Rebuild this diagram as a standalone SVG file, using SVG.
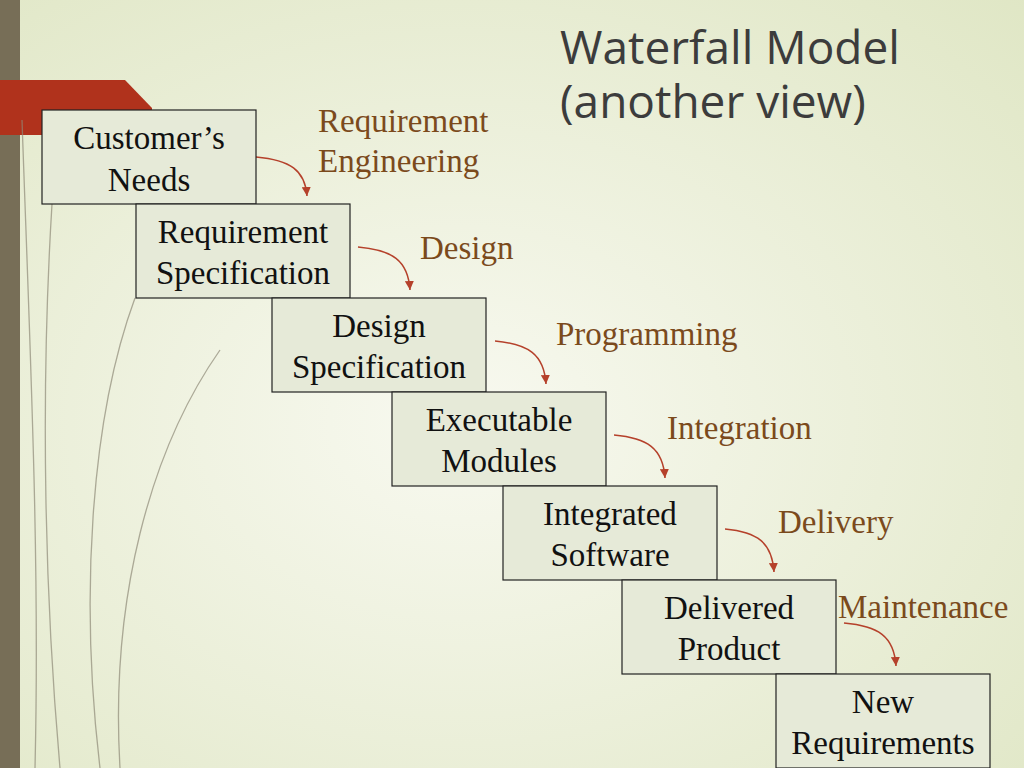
<svg xmlns="http://www.w3.org/2000/svg" width="1024" height="768" viewBox="0 0 1024 768">
<defs>
<radialGradient id="bg" cx="0.45" cy="0.55" r="0.8">
<stop offset="0" stop-color="#f8f9f0"/><stop offset="1" stop-color="#dfe6c4"/>
</radialGradient>
<marker id="ah" markerWidth="9" markerHeight="9" refX="8" refY="4" orient="auto" markerUnits="userSpaceOnUse" viewBox="0 0 8 8">
<path d="M0,0 L8,4 L0,8 z" fill="#b5412b"/>
</marker>
<style>
.box{fill:#e6ead8;stroke:#222;stroke-width:1.2}
.t{font-family:"Liberation Serif",serif;font-size:33px;fill:#111;text-anchor:middle}
.l{font-family:"Liberation Serif",serif;font-size:33px;fill:#7b4a1c}
.c{fill:none;stroke:#b5412b;stroke-width:1.5}
.d{fill:none;stroke:#8f8a78;stroke-width:1.3;opacity:0.7}
</style>
</defs>
<rect width="1024" height="768" fill="url(#bg)"/>
<g id="decor">
<rect x="0" y="0" width="20" height="768" fill="#776e57"/>
<polygon points="0,80 125,80 152,108 152,135 0,135" fill="#b0321c"/>
<path class="d" d="M52,204 C40,400 45,600 60,768"/>
<path class="d" d="M135,298 C90,420 80,600 100,768"/>
<path class="d" d="M220,350 C150,450 110,600 120,768"/>
<path class="d" d="M22,120 C30,350 40,560 35,768"/>
</g>
<text x="560" y="64" font-family="Open Sans, sans-serif" font-size="46" fill="#3c3c3c">Waterfall Model</text>
<text x="560" y="118" font-family="Open Sans, sans-serif" font-size="46" fill="#3c3c3c">(another view)</text>
<g id="connectors">
<path class="c" d="M256,157 C290,160 305,170 307,196" marker-end="url(#ah)"/>
<path class="c" d="M358,247 C392,250 408,260 410,290" marker-end="url(#ah)"/>
<path class="c" d="M495,341 C528,344 544,354 546,384" marker-end="url(#ah)"/>
<path class="c" d="M614,435 C647,438 663,448 665,478" marker-end="url(#ah)"/>
<path class="c" d="M725,529 C757,532 772,542 774,572" marker-end="url(#ah)"/>
<path class="c" d="M844,623 C878,626 894,636 896,666" marker-end="url(#ah)"/>
</g>
<g id="labels">
<text class="l" x="318" y="132">Requirement</text>
<text class="l" x="318" y="172">Engineering</text>
<text class="l" x="420" y="259">Design</text>
<text class="l" x="556" y="345">Programming</text>
<text class="l" x="667" y="439">Integration</text>
<text class="l" x="778" y="533">Delivery</text>
<text class="l" x="838" y="618">Maintenance</text>
</g>
<g id="n1"><rect class="box" x="42" y="110" width="214" height="94"/><text class="t" x="149" y="149">Customer’s</text><text class="t" x="149" y="191">Needs</text></g>
<g id="n2"><rect class="box" x="136" y="204" width="214" height="94"/><text class="t" x="243" y="243">Requirement</text><text class="t" x="243" y="284">Specification</text></g>
<g id="n3"><rect class="box" x="272" y="298" width="214" height="94"/><text class="t" x="379" y="337">Design</text><text class="t" x="379" y="378">Specification</text></g>
<g id="n4"><rect class="box" x="392" y="392" width="214" height="94"/><text class="t" x="499" y="431">Executable</text><text class="t" x="499" y="472">Modules</text></g>
<g id="n5"><rect class="box" x="503" y="486" width="214" height="94"/><text class="t" x="610" y="525">Integrated</text><text class="t" x="610" y="566">Software</text></g>
<g id="n6"><rect class="box" x="622" y="580" width="214" height="94"/><text class="t" x="729" y="619">Delivered</text><text class="t" x="729" y="660">Product</text></g>
<g id="n7"><rect class="box" x="776" y="674" width="214" height="94"/><text class="t" x="883" y="713">New</text><text class="t" x="883" y="754">Requirements</text></g>
</svg>
